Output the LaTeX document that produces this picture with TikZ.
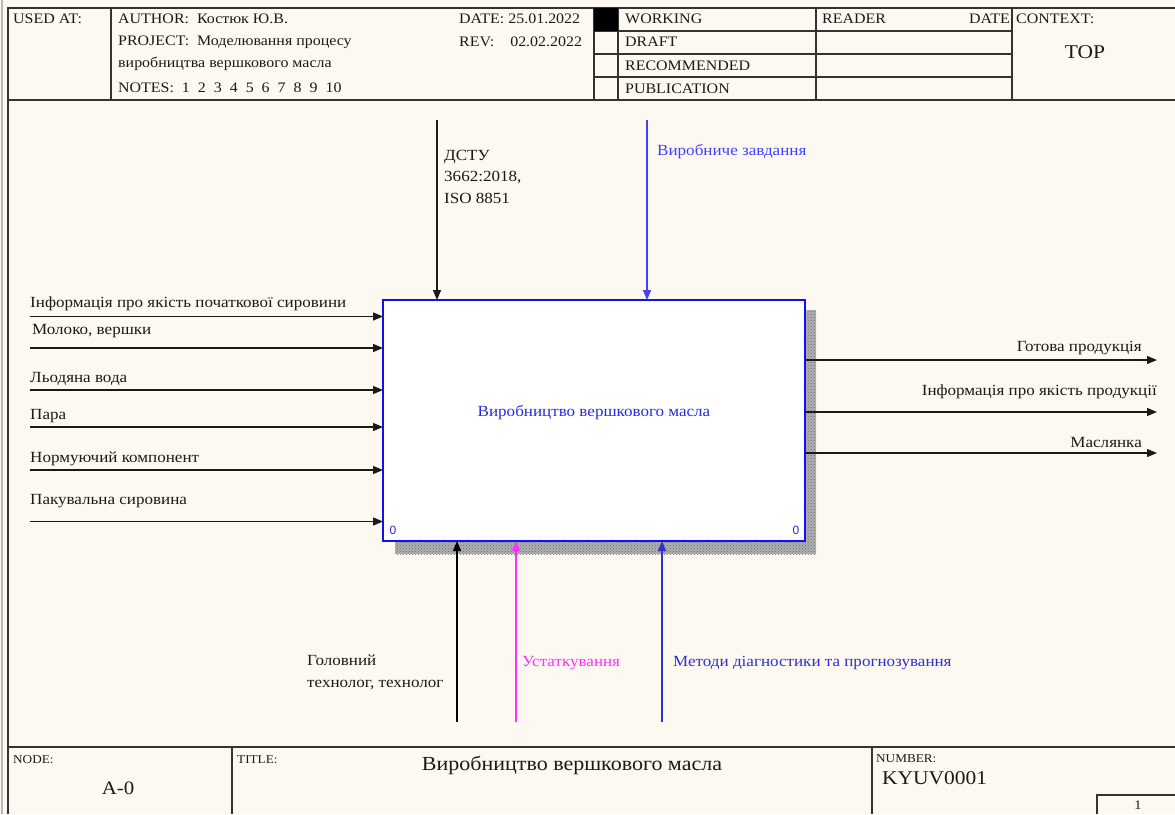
\documentclass[tikz,border=0pt]{standalone}
\usepackage{fontspec}
\setmainfont[FakeStretch=1.1]{Liberation Serif}
\newfontfamily\sansf{Liberation Sans}
\usetikzlibrary{arrows.meta,patterns}
\definecolor{bgc}{HTML}{FDF9F0}
\definecolor{framec}{HTML}{333333}
\definecolor{boxblue}{HTML}{1010F0}
\definecolor{txtblue}{HTML}{2A2AE0}
\definecolor{ctlblue}{HTML}{4040FF}
\definecolor{mechblue}{HTML}{3030D0}
\definecolor{pinkc}{HTML}{FF30FF}
\definecolor{shadowc}{HTML}{B0B0B0}
\definecolor{shadowd}{HTML}{6A6A6A}
\definecolor{txtc}{HTML}{1A1A1A}
\tikzset{
  frameline/.style={draw=framec, line width=1.2pt},
  hdr/.style={inner sep=0pt, anchor=west, font=\fontsize{14.5}{16}\selectfont, text=txtc},
  small/.style={inner sep=0pt, anchor=west, font=\fontsize{12}{14}\selectfont, text=txtc},
  lbl/.style={inner sep=0pt, anchor=west, font=\fontsize{15.5}{17}\selectfont, text=txtc},
  arr/.style={draw=#1, line width=1.2pt, -{Triangle[length=10pt,width=8pt]}},
  arr/.default=txtc,
  zero/.style={inner sep=0pt, font=\sansf\fontsize{12}{14}\selectfont, text=txtblue}
}
\begin{document}
\begin{tikzpicture}[x=1pt,y=-1pt]
\useasboundingbox (0,0) rectangle (1175,814);
\fill[bgc] (0,0) rectangle (1175,814);
% outer frame
\draw[gray!55, line width=1.5pt] (2,0) -- (2,814);
\draw[frameline] (8,814) -- (8,8) -- (1175,8);
\draw[frameline] (8,100) -- (1175,100);
% header columns
\foreach \x in {111,594,618,816,1012} \draw[frameline] (\x,8) -- (\x,100);
\foreach \y in {31,54,77} \draw[frameline] (594,\y) -- (1012,\y);
\fill[black] (594,8) rectangle (618,31);
% header texts
\node[hdr] (usedat) at (13,19) {USED AT:};
\node[hdr] (author) at (118,19) {AUTHOR:\ \ Костюк Ю.В.};
\node[hdr] (project) at (118,42) {PROJECT:\ \ Моделювання процесу};
\node[hdr] (project2) at (118,64) {виробництва вершкового масла};
\node[hdr] (notes) at (118,88) {NOTES:\ \ 1\ \ 2\ \ 3\ \ 4\ \ 5\ \ 6\ \ 7\ \ 8\ \ 9\ \ 10};
\node[hdr] (date) at (459,19) {DATE: 25.01.2022};
\node[hdr] (rev) at (459,42) {REV:\ \ \ \ 02.02.2022};
\node[hdr] (working) at (625,19) {WORKING};
\node[hdr] (draft) at (625,42) {DRAFT};
\node[hdr] (recommended) at (625,66) {RECOMMENDED};
\node[hdr] (publication) at (625,89) {PUBLICATION};
\node[hdr] (reader) at (822,19) {READER};
\node[hdr, anchor=east] (rdate) at (1010,19) {DATE};
\node[hdr] (context) at (1016,19) {CONTEXT:};
\node[inner sep=0pt, font=\fontsize{19.5}{22}\selectfont, text=txtc] (top) at (1085,52) {TOP};
% footer
\draw[frameline] (8,747) -- (1175,747);
\draw[frameline] (232,747) -- (232,814);
\draw[frameline] (872,747) -- (872,814);
\draw[frameline] (1097,814) -- (1097,795) -- (1175,795);
\node[small] (nodelbl) at (13,760) {NODE:};
\node[inner sep=0pt, font=\fontsize{19}{20}\selectfont, text=txtc] (nodeval) at (118,788) {A-0};
\node[small] (titlelbl) at (237,760) {TITLE:};
\node[inner sep=0pt, font=\fontsize{20}{22}\selectfont, text=txtc] (titleval) at (572,765) {Виробництво вершкового масла};
\node[small] (numlbl) at (876,759) {NUMBER:};
\node[inner sep=0pt, anchor=west, font=\fontsize{19.5}{21}\selectfont, text=txtc] (numval) at (882,778) {KYUV0001};
\node[inner sep=0pt, font=\fontsize{13}{15}\selectfont, text=txtc] (page) at (1138,805) {1};
% activity box
\fill[shadowc] (395,310) rectangle (816,554);
\fill[pattern=crosshatch dots, pattern color=shadowd] (395,310) rectangle (816,554);
\node[draw=boxblue, line width=2.5pt, fill=white, minimum width=422pt, minimum height=241pt,
      inner sep=0pt, outer sep=0pt, anchor=north west, text=txtblue,
      font=\fontsize{15.5}{17}\selectfont] (A0) at (383,300) {\raisebox{19pt}{Виробництво вершкового масла}};
\node[zero] (z1) at (393,530) {0};
\node[zero] (z2) at (796,530) {0};
% inputs
\coordinate (i1) at (30,316.5);
\coordinate (i2) at (30,348);
\coordinate (i3) at (30,390);
\coordinate (i4) at (30,427);
\coordinate (i5) at (30,470);
\coordinate (i6) at (30,521.5);
\foreach \i in {1,...,6} \draw[arr] (i\i) -- (A0.west |- i\i);
\node[lbl] (li1) at (30,304) {Інформація про якість початкової сировини};
\node[lbl] (li2) at (32,331) {Молоко, вершки};
\node[lbl] (li3) at (30,379) {Льодяна вода};
\node[lbl] (li4) at (30,416) {Пара};
\node[lbl] (li5) at (30,459) {Нормуючий компонент};
\node[lbl] (li6) at (30,501) {Пакувальна сировина};
% outputs
\coordinate (o1) at (1157,360);
\coordinate (o2) at (1157,412);
\coordinate (o3) at (1157,453);
\foreach \i in {1,2,3} \draw[arr] (A0.east |- o\i) -- (o\i);
\node[lbl, anchor=east] (lo1) at (1142,348) {Готова продукція};
\node[lbl, anchor=east] (lo2) at (1157,392) {Інформація про якість продукції};
\node[lbl, anchor=east] (lo3) at (1142,442) {Маслянка};
% controls
\coordinate (c1) at (437,120);
\coordinate (c2) at (647,120);
\draw[arr] (c1) -- (c1 |- A0.north);
\draw[arr=ctlblue] (c2) -- (c2 |- A0.north);
\node[lbl, anchor=north west, align=left, font=\fontsize{15.5}{21.5}\selectfont] (lc1) at (444,150) {ДСТУ\\3662:2018,\\ISO 8851};
\node[lbl, text=ctlblue] (lc2) at (657,152) {Виробниче завдання};
% mechanisms
\coordinate (m1) at (457,722);
\coordinate (m2) at (516,722);
\coordinate (m3) at (662,722);
\draw[arr=black] (m1) -- (m1 |- A0.south);
\draw[arr=pinkc] (m2) -- (m2 |- A0.south);
\draw[arr=mechblue] (m3) -- (m3 |- A0.south);
\node[lbl, anchor=north west, align=left, font=\fontsize{15.5}{21.5}\selectfont] (lm1) at (307,655) {Головний\\технолог, технолог};
\node[lbl, text=pinkc] (lm2) at (522,663) {Устаткування};
\node[lbl, text=mechblue] (lm3) at (673,663) {Методи діагностики та прогнозування};
\end{tikzpicture}
\end{document}
